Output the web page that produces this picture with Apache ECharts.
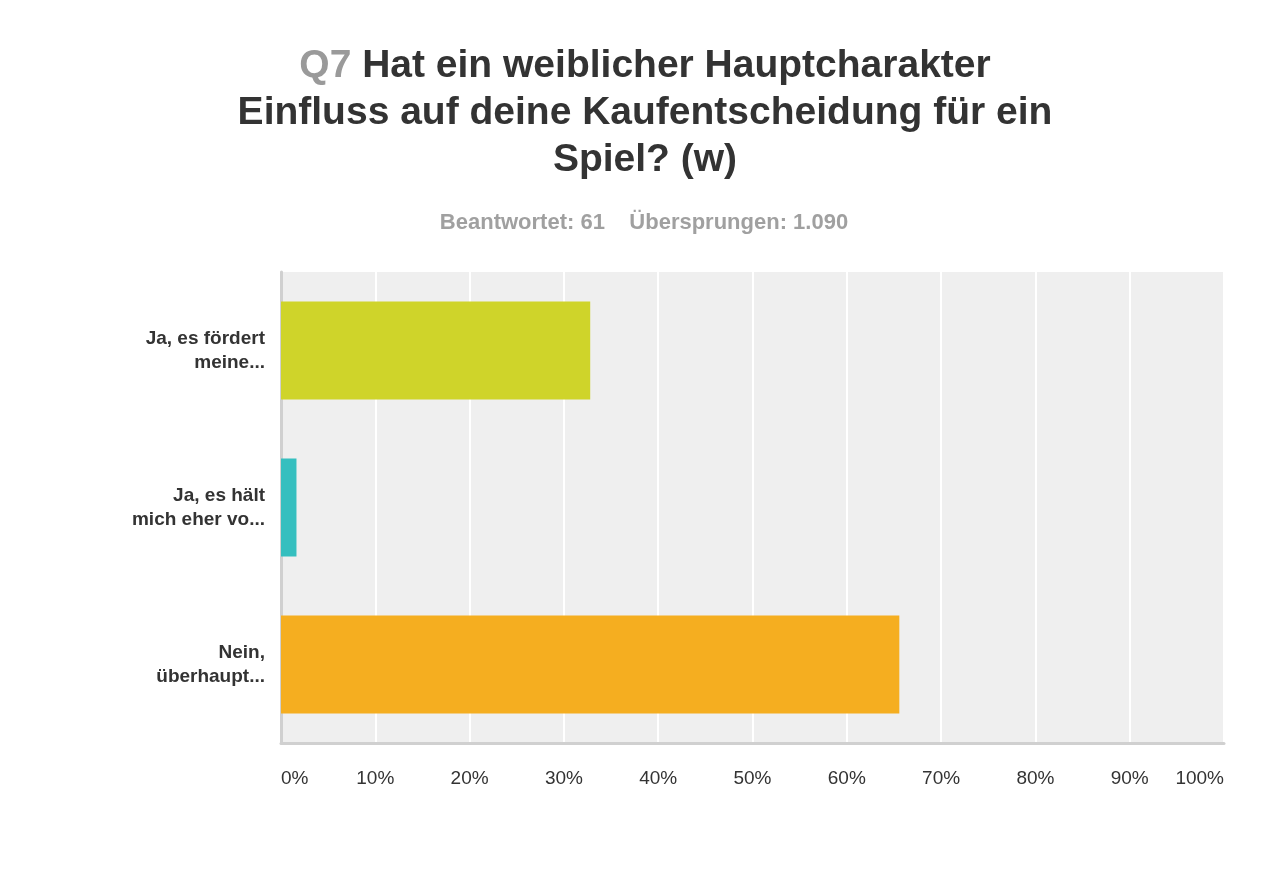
<!DOCTYPE html>
<html lang="de">
<head>
<meta charset="UTF-8">
<title>Q7</title>
<style>
  html, body { margin: 0; padding: 0; background: #fff; }
  #chart { width: 1280px; height: 888px; }
</style>
</head>
<body>
<div id="chart"></div>
<script src="https://cdn.jsdelivr.net/npm/echarts@6/dist/echarts.min.js"></script>
<script>
  var categories = ['Ja, es fördert\nmeine...', 'Ja, es hält\nmich eher vo...', 'Nein,\nüberhaupt...'];
  var values = [32.79, 1.64, 65.57];
  var barColors = ['#cfd42a', '#35bfbf', '#f5ae20'];
  var tickLabels = ['0%', '10%', '20%', '30%', '40%', '50%', '60%', '70%', '80%', '90%', '100%'];

  var chart = echarts.init(document.getElementById('chart'));
  var option = {
    backgroundColor: '#fff',
    title: [{
      text: '{q|Q7} Hat ein weiblicher Hauptcharakter\nEinfluss auf deine Kaufentscheidung für ein\nSpiel? (w)',
      left: 640,
      top: 38,
      textAlign: 'center',
      textStyle: {
        fontFamily: 'Liberation Sans, Arial',
        fontSize: 39,
        fontWeight: 'bold',
        color: '#333',
        lineHeight: 47,
        align: 'center',
        rich: {
          q: { fontFamily: 'Liberation Sans, Arial', fontSize: 39, fontWeight: 'bold', color: '#9a9a9a', lineHeight: 47 }
        }
      }
    }, {
      text: 'Beantwortet: 61    Übersprungen: 1.090',
      left: 639,
      top: 207,
      textAlign: 'center',
      textStyle: { fontFamily: 'Liberation Sans, Arial', fontSize: 22, fontWeight: 'bold', color: '#a0a0a0' }
    }],
    grid: { left: 281, right: 56, top: 272, bottom: 145, containLabel: false, show: true, backgroundColor: '#efefef', borderWidth: 0 },
    xAxis: {
      type: 'value',
      min: 0,
      max: 100,
      interval: 10,
      axisLine: { show: true, lineStyle: { color: '#d0d0d0', width: 3 } },
      axisTick: { show: false },
      splitLine: { show: true, lineStyle: { color: '#ffffff', width: 2 } },
      axisLabel: {
        margin: 26,
        fontFamily: 'Liberation Sans, Arial',
        fontSize: 19,
        color: '#333',
        alignMinLabel: 'left',
        alignMaxLabel: 'right',
        formatter: function (v) { return tickLabels[Math.round(v / 10)]; }
      }
    },
    yAxis: {
      type: 'category',
      inverse: true,
      data: categories,
      axisLine: { show: true, lineStyle: { color: '#d0d0d0', width: 3 } },
      axisTick: { show: false },
      axisLabel: {
        margin: 16,
        fontFamily: 'Liberation Sans, Arial',
        fontSize: 19,
        fontWeight: 'bold',
        color: '#333',
        lineHeight: 24,
        align: 'right'
      }
    },
    series: [{
      type: 'bar',
      barWidth: '62.5%',
      data: values.map(function (v, i) {
        return { value: v, itemStyle: { color: barColors[i] } };
      }),
      silent: true
    }]
  };
  chart.setOption(option);
</script>
</body>
</html>
